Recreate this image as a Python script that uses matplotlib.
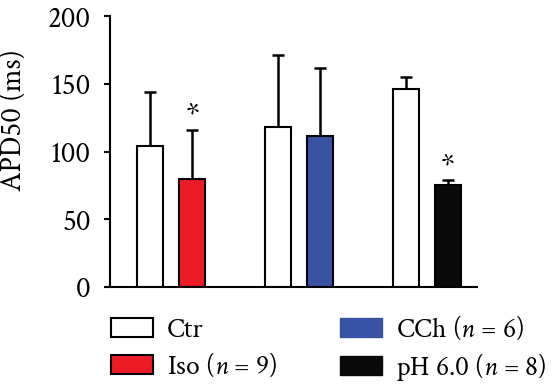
import matplotlib.pyplot as plt
import numpy as np
from matplotlib.patches import Patch

plt.rcParams['font.family'] = ['Crimson Text', 'Liberation Serif', 'DejaVu Serif']
plt.rcParams['mathtext.fontset'] = 'custom'
plt.rcParams['mathtext.it'] = 'Crimson Text:italic'
plt.rcParams['mathtext.rm'] = 'Crimson Text'

groups = ['Iso', 'CCh', 'pH 6.0']
ctr_mean = [104, 118, 146]
ctr_err = [40, 53, 9]
trt_mean = [80, 111.5, 75]
trt_err = [36, 50, 4]
trt_colors = ['#ED1C24', '#3953A4', '#0a0a0a']
signif = [True, False, True]
labels = ['Ctr', 'Iso ($n$ = 9)', 'CCh ($n$ = 6)', 'pH 6.0 ($n$ = 8)']

fig = plt.figure(figsize=(5.59, 3.85), dpi=100)
ax = fig.add_axes([0.197, 0.2545, 0.656, 0.7035])

x = np.arange(len(groups))
w = 0.203
off = 0.166

ax.bar(x - off, ctr_mean, w, color='white', edgecolor='black', linewidth=1.5, zorder=2)
ax.bar(x + off, trt_mean, w, color=trt_colors, edgecolor='black', linewidth=1.5, zorder=2)
ax.errorbar(x - off, ctr_mean, yerr=[np.zeros(3), ctr_err], fmt='none', ecolor='black',
            elinewidth=1.8, capsize=4, capthick=1.8, zorder=1)
ax.errorbar(x + off, trt_mean, yerr=[np.zeros(3), trt_err], fmt='none', ecolor='black',
            elinewidth=1.8, capsize=4, capthick=1.8, zorder=1)

for i in range(len(groups)):
    if signif[i]:
        ax.text(x[i] + off, trt_mean[i] + trt_err[i] + 10, '*', ha='center', va='center', fontsize=23)

ax.set_xlim(-0.477, 2.39)
ax.set_ylim(0, 200)
ax.set_yticks([0, 50, 100, 150, 200])
ax.set_xticks([])
ax.tick_params(axis='y', labelsize=21, width=1.5, length=4, pad=10, direction='out')
ax.spines['top'].set_visible(False)
ax.spines['right'].set_visible(False)
ax.spines['left'].set_linewidth(1.5)
ax.spines['bottom'].set_linewidth(1.5)
ax.set_ylabel('APD50 (ms)', fontsize=21)
ax.yaxis.set_label_coords(-0.223, 0.616)

handles = [Patch(facecolor='white', edgecolor='black', linewidth=1.5),
           Patch(facecolor=trt_colors[0], edgecolor='black', linewidth=1.5),
           Patch(facecolor=trt_colors[1], edgecolor=trt_colors[1]),
           Patch(facecolor=trt_colors[2], edgecolor=trt_colors[2])]
fig.legend(handles, labels, ncol=2, loc='upper left', bbox_to_anchor=(0.1986, 0.182),
           frameon=False, fontsize=20, handlelength=1.51, handleheight=0.68,
           columnspacing=2.27, labelspacing=0.33, handletextpad=0.5,
           borderpad=0, borderaxespad=0)

fig.savefig('out.png', dpi=100)
